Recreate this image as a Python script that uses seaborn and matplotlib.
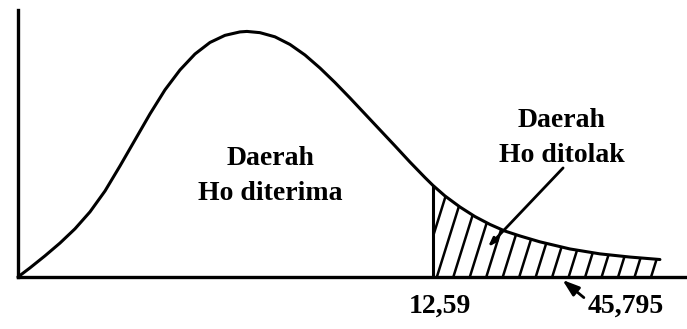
import numpy as np
import matplotlib
matplotlib.use("Agg")
import matplotlib.pyplot as plt
from matplotlib.patches import Polygon
import seaborn as sns

# Sketch of the chi-square curve (relative height, peak = 1)
x_vals = [0.0, 0.364, 0.819, 1.274, 1.729, 2.184, 2.640, 3.095, 3.550, 4.005,
          4.460, 4.915, 5.370, 5.825, 6.280, 6.735, 6.948, 7.342, 7.797, 8.252,
          8.708, 9.163, 9.618, 10.073, 10.528, 10.983, 11.438, 11.893, 12.348,
          12.59, 12.955, 13.410, 13.865, 14.320, 14.775, 15.231, 15.837, 16.748,
          17.658, 18.568, 19.478]
heights = [0.0, 0.037, 0.086, 0.138, 0.196, 0.265, 0.350, 0.452, 0.558, 0.664,
           0.762, 0.843, 0.908, 0.955, 0.984, 0.998, 1.0, 0.995, 0.978, 0.947,
           0.904, 0.851, 0.792, 0.729, 0.664, 0.599, 0.534, 0.468, 0.405,
           0.373, 0.330, 0.285, 0.246, 0.214, 0.187, 0.167, 0.143, 0.114,
           0.094, 0.081, 0.071]

critical_value = 12.59
critical_label = "12,59"
observed_label = "45,795"
observed_pos = 16.52
accept_label = ["Daerah", "Ho diterima"]
reject_label = ["Daerah", "Ho ditolak"]

sns.set_style("white")
plt.rcParams["font.family"] = ["Liberation Serif", "DejaVu Serif"]

fig = plt.figure(figsize=(6.87, 3.29), dpi=100)
ax = fig.add_axes([0, 0, 1, 1])

sns.lineplot(x=x_vals, y=heights, ax=ax, color="black", linewidth=2.2,
             estimator=None, sort=True)

x_arr = np.array(x_vals)
h_arr = np.array(heights)
mask = x_arr >= critical_value
crit_height = h_arr[x_arr == critical_value][0]

# rejection region: vertical boundary plus slanted hatching
ax.vlines(critical_value, 0, crit_height, color="black", linewidth=2.2)
region = Polygon(np.column_stack([np.r_[x_arr[mask], x_arr[mask][-1], critical_value],
                                  np.r_[h_arr[mask], 0, 0]]),
                 closed=True, fill=False, edgecolor="none")
ax.add_patch(region)
for start in np.arange(12.71 - 1.0, 20.0, 0.5):
    ln, = ax.plot([start, start + 1.0], [0, 0.43], color="black",
                  linewidth=1.8, solid_capstyle="butt")
    ln.set_clip_path(region)

# axes drawn as spines through the origin
for side in ["top", "right"]:
    ax.spines[side].set_visible(False)
ax.spines["left"].set_position(("data", 0))
ax.spines["bottom"].set_position(("data", 0))
ax.spines["left"].set_bounds(0, 1.088)
ax.spines["bottom"].set_bounds(0, 20.3)
for side in ["left", "bottom"]:
    ax.spines[side].set_color("black")
    ax.spines[side].set_linewidth(2.4)
ax.set_xticks([])
ax.set_yticks([])
ax.set_xlim(-0.546, 20.30)
ax.set_ylim(-0.212, 1.128)

font = dict(fontsize=20, fontweight="bold", color="black")

ax.text(7.65, 0.456, accept_label[0], ha="center", va="baseline", **font)
ax.text(7.65, 0.314, accept_label[1], ha="center", va="baseline", **font)
ax.text(16.50, 0.611, reject_label[0], ha="center", va="baseline", **font)
ax.text(16.50, 0.468, reject_label[1], ha="center", va="baseline", **font)

arrow = dict(arrowstyle="-|>,head_length=0.5,head_width=0.17", color="black",
             linewidth=2.0, shrinkA=0, shrinkB=0)
ax.annotate("", xy=(14.26, 0.122), xytext=(16.54, 0.444), arrowprops=arrow)

ax.annotate(critical_label, xy=(critical_value, 0), xytext=(7, -36),
            textcoords="offset pixels", ha="center", va="baseline", **font)
ax.annotate(observed_label, xy=(observed_pos, -0.012), xytext=(17.27, -0.147),
            ha="left", va="baseline",
            arrowprops=dict(arrow, relpos=(0, 0.75)), **font)

fig.savefig("out.png", dpi=100)
